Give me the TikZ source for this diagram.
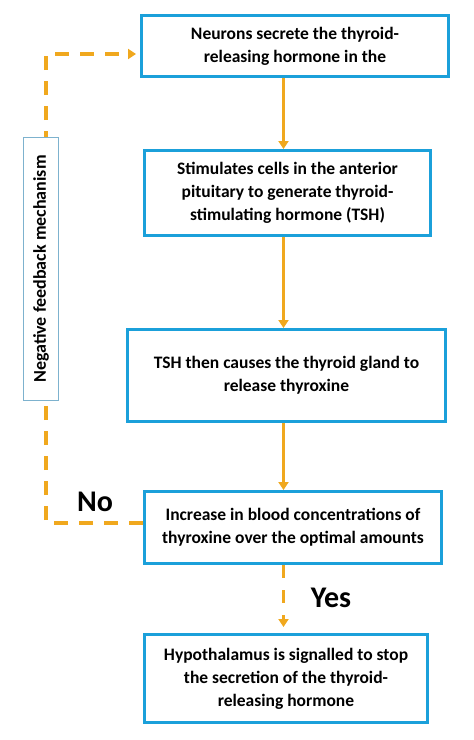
\documentclass[tikz,border=0pt]{standalone}
\usepackage{fontspec}
\setmainfont{Carlito}
\usepackage{xcolor}
\usepackage{tikz}
\usetikzlibrary{arrows.meta}

\definecolor{boxblue}{RGB}{27,160,218}
\definecolor{linkorange}{RGB}{240,168,30}
\definecolor{thinblue}{RGB}{125,178,206}

\begin{document}
\begin{tikzpicture}[x=1pt, y=1pt,
    box/.style = {draw=boxblue, line width=3pt, fill=white, align=center,
                  font=\fontsize{17.5}{23}\selectfont\bfseries},
    link/.style = {draw=linkorange, line width=2.5pt, -{Triangle[width=10pt,length=8pt]}},
    loop/.style = {link, line width=3.5pt, dash pattern=on 14pt off 11pt}]
                            \useasboundingbox (0,0) rectangle (474,-740);

                            \node (A) [box, minimum width=307pt, minimum height=61pt] at (295,-46)
                                {Neurons secrete the thyroid-\\releasing hormone in the};
                            \node (B) [box, minimum width=286pt, minimum height=85pt] at (287.5,-193)
                                {Stimulates cells in the anterior\\pituitary to generate thyroid-\\stimulating hormone (TSH)};
                            \node (C) [box, minimum width=318pt, minimum height=92pt] at (286.5,-375.5)
                                {TSH then causes the thyroid gland to\\release thyroxine};
                            \node (D) [box, minimum width=297pt, minimum height=72pt] at (293,-527.5)
                                {Increase in blood concentrations of\\thyroxine over the optimal amounts};
                            \node (E) [box, minimum width=283pt, minimum height=88pt] at (286,-678.5)
                                {Hypothalamus is signalled to stop\\the secretion of the thyroid-\\releasing hormone};

                            \coordinate (axis) at (283.5,0);
                            \coordinate (low) at (46,-523);
                            \coordinate (high) at (46,-54);

                            \draw [link] (A.south -| axis) -- (B.north -| axis);
                            \draw [link] (B.south -| axis) -- (C.north -| axis);
                            \draw [link] (C.south -| axis) -- (D.north -| axis);
                            \draw [loop, dash pattern=on 13pt off 12pt, shorten >=6pt] (D.south -| axis) -- (E.north -| axis);
                            \draw [loop, shorten >=4pt] (D.west |- low) -- (low) -- (high) -- (A.west |- high);

                            \node (F) [draw=thinblue, line width=1pt, fill=white, minimum width=35pt,
                                minimum height=263pt] at (41,-269) {};
                            \node (Fl) [rotate=90, font=\fontsize{18}{20}\selectfont\bfseries] at (F.center) {Negative feedback mechanism};

                            \node (no) [font=\fontsize{30}{32}\selectfont\bfseries] at (95,-502) {No};
                            \node (yes) [font=\fontsize{30}{32}\selectfont\bfseries] at (331,-598) {Yes};
                        \end{tikzpicture}
\end{document}
